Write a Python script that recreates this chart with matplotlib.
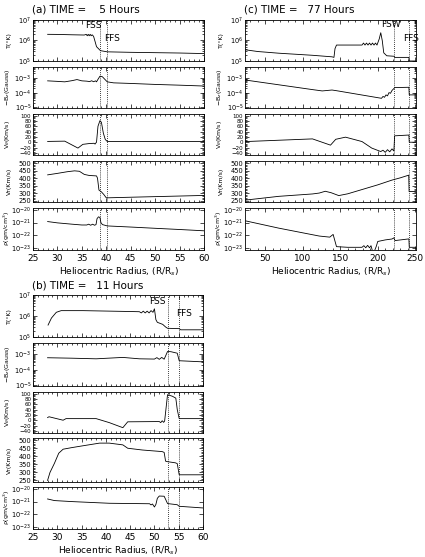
import matplotlib
matplotlib.use('Agg')
import matplotlib.pyplot as plt
import matplotlib.ticker as mt
import numpy as np

# ---------------- data : (a) TIME = 5 Hours ----------------
a_rT = [28, 30, 33, 35.5, 35.9, 36.1, 36.3, 36.5, 36.7, 36.9, 37.1, 37.4, 37.7, 38.0, 38.4, 38.8, 40.2, 45, 50, 55, 60]
a_T = [2.0e6, 1.98e6, 1.9e6, 1.85e6, 2.0e6, 1.7e6, 2.0e6, 1.7e6, 2.0e6, 1.7e6, 1.9e6, 1.6e6, 9e5, 5e5, 4e5, 3.2e5, 2.8e5, 2.65e5, 2.55e5, 2.45e5, 2.3e5]
a_rB = [28, 30, 31.5, 33, 34, 35, 36, 36.6, 37.0, 37.4, 37.8, 38.0, 38.3, 38.7, 39.2, 39.7, 40.2, 41.5, 45, 50, 55, 60]
a_B = [6.3e-4, 5.8e-4, 5.4e-4, 6.5e-4, 7.7e-4, 6.3e-4, 6.0e-4, 5.6e-4, 6.4e-4, 5.5e-4, 6.3e-4, 5.4e-4, 8e-4, 1.3e-3, 1.2e-3, 8e-4, 5.4e-4, 4.6e-4, 4.2e-4, 3.6e-4, 3.2e-4, 2.8e-4]
a_rV = [28, 31.5, 34.2, 35.2, 36.5, 37.5, 37.7, 37.9, 38.0, 38.3, 38.7, 39.0, 39.4, 39.8, 40.2, 60]
a_V = [3, 4, -22, -8, -5, -4, -7, -2, 0, 60, 81, 75, 34, 10, 3, 3]
a_rVr = [28, 30, 32, 33.5, 34.5, 35.5, 36.5, 38.0, 38.2, 38.5, 39.0, 39.5, 40.0, 40.2, 45, 50, 55, 60]
a_Vr = [422, 432, 443, 449, 446, 425, 418, 415, 400, 320, 308, 290, 268, 268, 272, 276, 280, 284]
a_rD = [28, 30, 33, 35, 36.0, 36.4, 36.8, 37.2, 37.6, 37.9, 38.1, 38.4, 38.7, 38.9, 39.2, 40.2, 45, 50, 55, 60]
a_D = [1.2e-21, 9.5e-22, 7.5e-22, 6.5e-22, 6.5e-22, 7.5e-22, 6.2e-22, 7.5e-22, 6.2e-22, 7e-22, 2e-21, 2.8e-21, 2.5e-21, 1.0e-21, 7e-22, 5.5e-22, 4.5e-22, 3.6e-22, 2.9e-22, 2.3e-22]
a_shocks = [38.7, 40.2]

# ---------------- data : (c) TIME = 77 Hours ----------------
c_rT = [24, 40, 68, 113, 139, 141.6, 143, 145, 179, 181, 183, 185, 187, 189, 191, 193, 195, 197, 199, 202, 204, 206, 208, 212, 222, 222.5, 241.5, 242, 251]
c_T = [3.5e5, 2.9e5, 2.4e5, 1.9e5, 1.6e5, 1.5e5, 4e5, 6e5, 6e5, 7.5e5, 6e5, 7.5e5, 6e5, 7.5e5, 6e5, 7.5e5, 6e5, 7.5e5, 6e5, 1.2e6, 2.4e6, 1.0e6, 2.5e5, 1.8e5, 1.7e5, 1.5e5, 1.5e5, 1.0e5, 1.0e5]
c_rB = [24, 68, 113, 126, 139, 145, 205, 207, 209, 211, 213, 215, 217, 219, 222, 222.5, 241.5, 242, 251]
c_B = [7.1e-4, 3.4e-4, 1.6e-4, 1.3e-4, 1.5e-4, 1.35e-4, 4.1e-5, 5.5e-5, 4.8e-5, 7e-5, 6e-5, 1.0e-4, 9e-5, 1.4e-4, 2.0e-4, 2.2e-4, 2.3e-4, 7e-5, 7e-5]
c_rV = [24, 113, 137, 144, 157, 179, 192, 204, 207, 210, 213, 216, 219, 221.5, 222.5, 241.5, 242, 251]
c_V = [2.5, 12.5, -11, 11, 19, 2.5, -22, -35, -30, -38, -28, -36, -25, -33, 24, 27, 0, 0]
c_rVr = [24, 68, 113, 122, 130, 138, 148, 160, 180, 200, 219, 230, 241.3, 241.8, 251]
c_Vr = [253, 278, 294, 300, 312, 302, 283, 295, 325, 355, 387, 402, 420, 310, 310]
c_rD = [24, 68, 100, 122, 136, 140.5, 145, 160, 179, 181.5, 184, 186.5, 189, 191, 193, 195, 198, 200, 210, 219, 221.5, 223, 241.5, 242, 251]
c_D = [1.35e-21, 3.7e-22, 1.6e-22, 9e-23, 7.4e-23, 1.2e-22, 1.35e-23, 1.2e-23, 1.2e-23, 1.6e-23, 1.1e-23, 1.7e-23, 1.1e-23, 1.6e-23, 6e-24, 5e-24, 1.4e-23, 3.4e-23, 4.5e-23, 5.3e-23, 6.5e-23, 4e-23, 5.4e-23, 1.2e-23, 1.2e-23]
c_shocks = [222, 241.5]

# ---------------- data : (b) TIME = 11 Hours ----------------
b_rT = [28.1, 28.8, 29.8, 30.8, 35.3, 44.1, 46.9, 47.3, 47.7, 48.1, 48.5, 48.9, 49.3, 49.7, 50.0, 50.3, 50.6, 51.7, 52.3, 52.7, 55.1, 55.4, 60]
b_T = [3.7e5, 8e5, 1.5e6, 1.8e6, 1.8e6, 1.65e6, 1.6e6, 1.4e6, 1.7e6, 1.4e6, 1.7e6, 1.4e6, 1.8e6, 1.5e6, 2.2e6, 6.7e5, 5e5, 4e5, 3e5, 2.6e5, 2.5e5, 2.2e5, 2.2e5]
b_rB = [28, 33, 38, 43.5, 46.9, 50.0, 50.5, 51.0, 51.5, 52.0, 52.3, 52.7, 53.4, 54.7, 55.1, 60]
b_B = [6.1e-4, 5.7e-4, 5.2e-4, 6.4e-4, 5.2e-4, 5.0e-4, 6.2e-4, 4.8e-4, 6.4e-4, 4.9e-4, 8e-4, 1.55e-3, 1.5e-3, 1.2e-3, 3.9e-4, 3.3e-4]
b_rV = [28, 28.3, 31.2, 31.8, 38, 40.7, 43.5, 44.5, 51.0, 51.3, 51.6, 51.9, 52.1, 52.3, 52.7, 53.7, 54.4, 54.7, 55.1, 60]
b_V = [10, 13, 0, 6, 6, -9, -28, -6, -5, -9, -2, -8, -3, 30, 96, 90, 83, 40, 6, 6]
b_rVr = [28, 28.5, 29.4, 30.3, 31.2, 33, 35, 38.7, 40.7, 43.5, 44.5, 47.5, 51.6, 52.0, 52.3, 52.7, 54.3, 54.7, 55.1, 60]
b_Vr = [250, 300, 356, 420, 445, 455, 465, 483, 483, 472, 451, 440, 430, 425, 370, 367, 360, 355, 285, 285]
b_rD = [28, 29.4, 33, 40.7, 49.0, 49.3, 49.6, 50.0, 50.3, 50.6, 51.0, 52.0, 52.3, 52.7, 54.7, 55.1, 60]
b_D = [1.6e-21, 1.2e-21, 1.0e-21, 7.4e-22, 6.8e-22, 5.5e-22, 6.5e-22, 3.8e-22, 6e-22, 1.8e-21, 2.7e-21, 2.6e-21, 1.5e-21, 7e-22, 5.7e-22, 4.3e-22, 3.2e-22]
b_shocks = [52.7, 55.1]

ylabels = ['T(°K)', '−B$_z$(Gauss)', 'V$_\\theta$(Km/s)', 'Vr(Km/s)', 'ρ(gm/cm$^3$)']

W, H = 425, 557
fig = plt.figure(figsize=(W / 100, H / 100), dpi=100)
plt.rcParams['font.family'] = ['DejaVu Sans']


def add_ax(x0, x1, y0, y1):
    return fig.add_axes([x0 / W, 1 - y1 / H, (x1 - x0) / W, (y1 - y0) / H])


def style(ax, ysize):
    ax.tick_params(which='both', direction='in', top=True, right=True,
                   width=0.5, pad=1.2)
    ax.tick_params(axis='y', labelsize=ysize)
    ax.tick_params(axis='x', pad=3)
    ax.tick_params(which='major', length=3)
    ax.tick_params(which='minor', length=1.5)
    for s in ax.spines.values():
        s.set_linewidth(0.6)


def group(x0, x1, rows, xlim, xmaj, xmin, series, shocks, title, labels):
    axes = []
    for i, (y0, y1) in enumerate(rows):
        ax = add_ax(x0, x1, y0, y1)
        r, v = series[i]
        ax.plot(r, v, color='black', lw=0.6)
        ax.set_xlim(*xlim)
        ax.xaxis.set_major_locator(mt.MultipleLocator(xmaj))
        ax.xaxis.set_minor_locator(mt.MultipleLocator(xmin))
        ysize = 4.8
        if i in (0, 1, 4):
            ax.set_yscale('log')
        if i == 0:
            ax.set_ylim(1e5, 1e7)
        elif i == 1:
            ax.set_ylim(9e-6, 5.5e-3)
            ax.set_yticks([1e-3, 1e-4, 1e-5])
        elif i == 2:
            ax.set_ylim(-48, 106)
            ax.yaxis.set_major_locator(mt.MultipleLocator(20))
            ax.yaxis.set_minor_locator(mt.MultipleLocator(5))
            ysize = 4.0
        elif i == 3:
            ax.set_ylim(240, 515)
            ax.yaxis.set_major_locator(mt.MultipleLocator(50))
            ax.yaxis.set_minor_locator(mt.MultipleLocator(10))
        else:
            ax.set_ylim(7.4e-24, 1.36e-20)
            ax.set_yticks([1e-20, 1e-21, 1e-22, 1e-23])
        if i in (0, 1, 4):
            ax.yaxis.set_minor_locator(mt.LogLocator(base=10, subs=np.arange(2, 10)))
            ax.yaxis.set_minor_formatter(mt.NullFormatter())
        for s in shocks:
            ax.axvline(s, color='black', lw=0.6, ls=(0, (1, 1.5)))
        style(ax, ysize)
        ax.set_ylabel(ylabels[i], fontsize=4.5, labelpad=1)
        ax.yaxis.set_label_coords(-0.125, 0.5)
        if i < 4:
            ax.tick_params(labelbottom=False)
        else:
            ax.set_xlabel('Heliocentric Radius, (R/R$_s$)', fontsize=6.5, labelpad=2)
            ax.tick_params(axis='x', labelsize=6.5)
        axes.append(ax)
    fig.text(x0 / W - 0.002, 1 - (rows[0][0] - 10) / H, title, fontsize=7.5,
             ha='left', va='center')
    top = axes[0]
    for (txt, xv, yf) in labels:
        top.text(xv, yf, txt, transform=top.get_xaxis_transform(),
                 fontsize=6.5, ha='center', va='center')
    return axes


rows_top = [(20, 61), (67, 108), (114, 155), (161, 202), (208, 250)]
rows_bot = [(295, 337), (343, 386), (392, 433), (438, 482), (487, 529)]

group(33, 204, rows_top, (25, 60), 5, 1,
      [(a_rT, a_T), (a_rB, a_B), (a_rV, a_V), (a_rVr, a_Vr), (a_rD, a_D)],
      a_shocks, '(a) TIME =    5 Hours',
      [('FSS', 37.3, 0.86), ('FFS', 41.2, 0.56)])

group(245, 416, rows_top, (23, 251), 50, 10,
      [(c_rT, c_T), (c_rB, c_B), (c_rV, c_V), (c_rVr, c_Vr), (c_rD, c_D)],
      c_shocks, '(c) TIME =   77 Hours',
      [('FSW', 217, 0.88), ('FFS', 244, 0.56)])

group(33, 203, rows_bot, (25, 60), 5, 1,
      [(b_rT, b_T), (b_rB, b_B), (b_rV, b_V), (b_rVr, b_Vr), (b_rD, b_D)],
      b_shocks, '(b) TIME =   11 Hours',
      [('FSS', 50.7, 0.84), ('FFS', 56.2, 0.57)])

fig.savefig('out.png', dpi=100)
